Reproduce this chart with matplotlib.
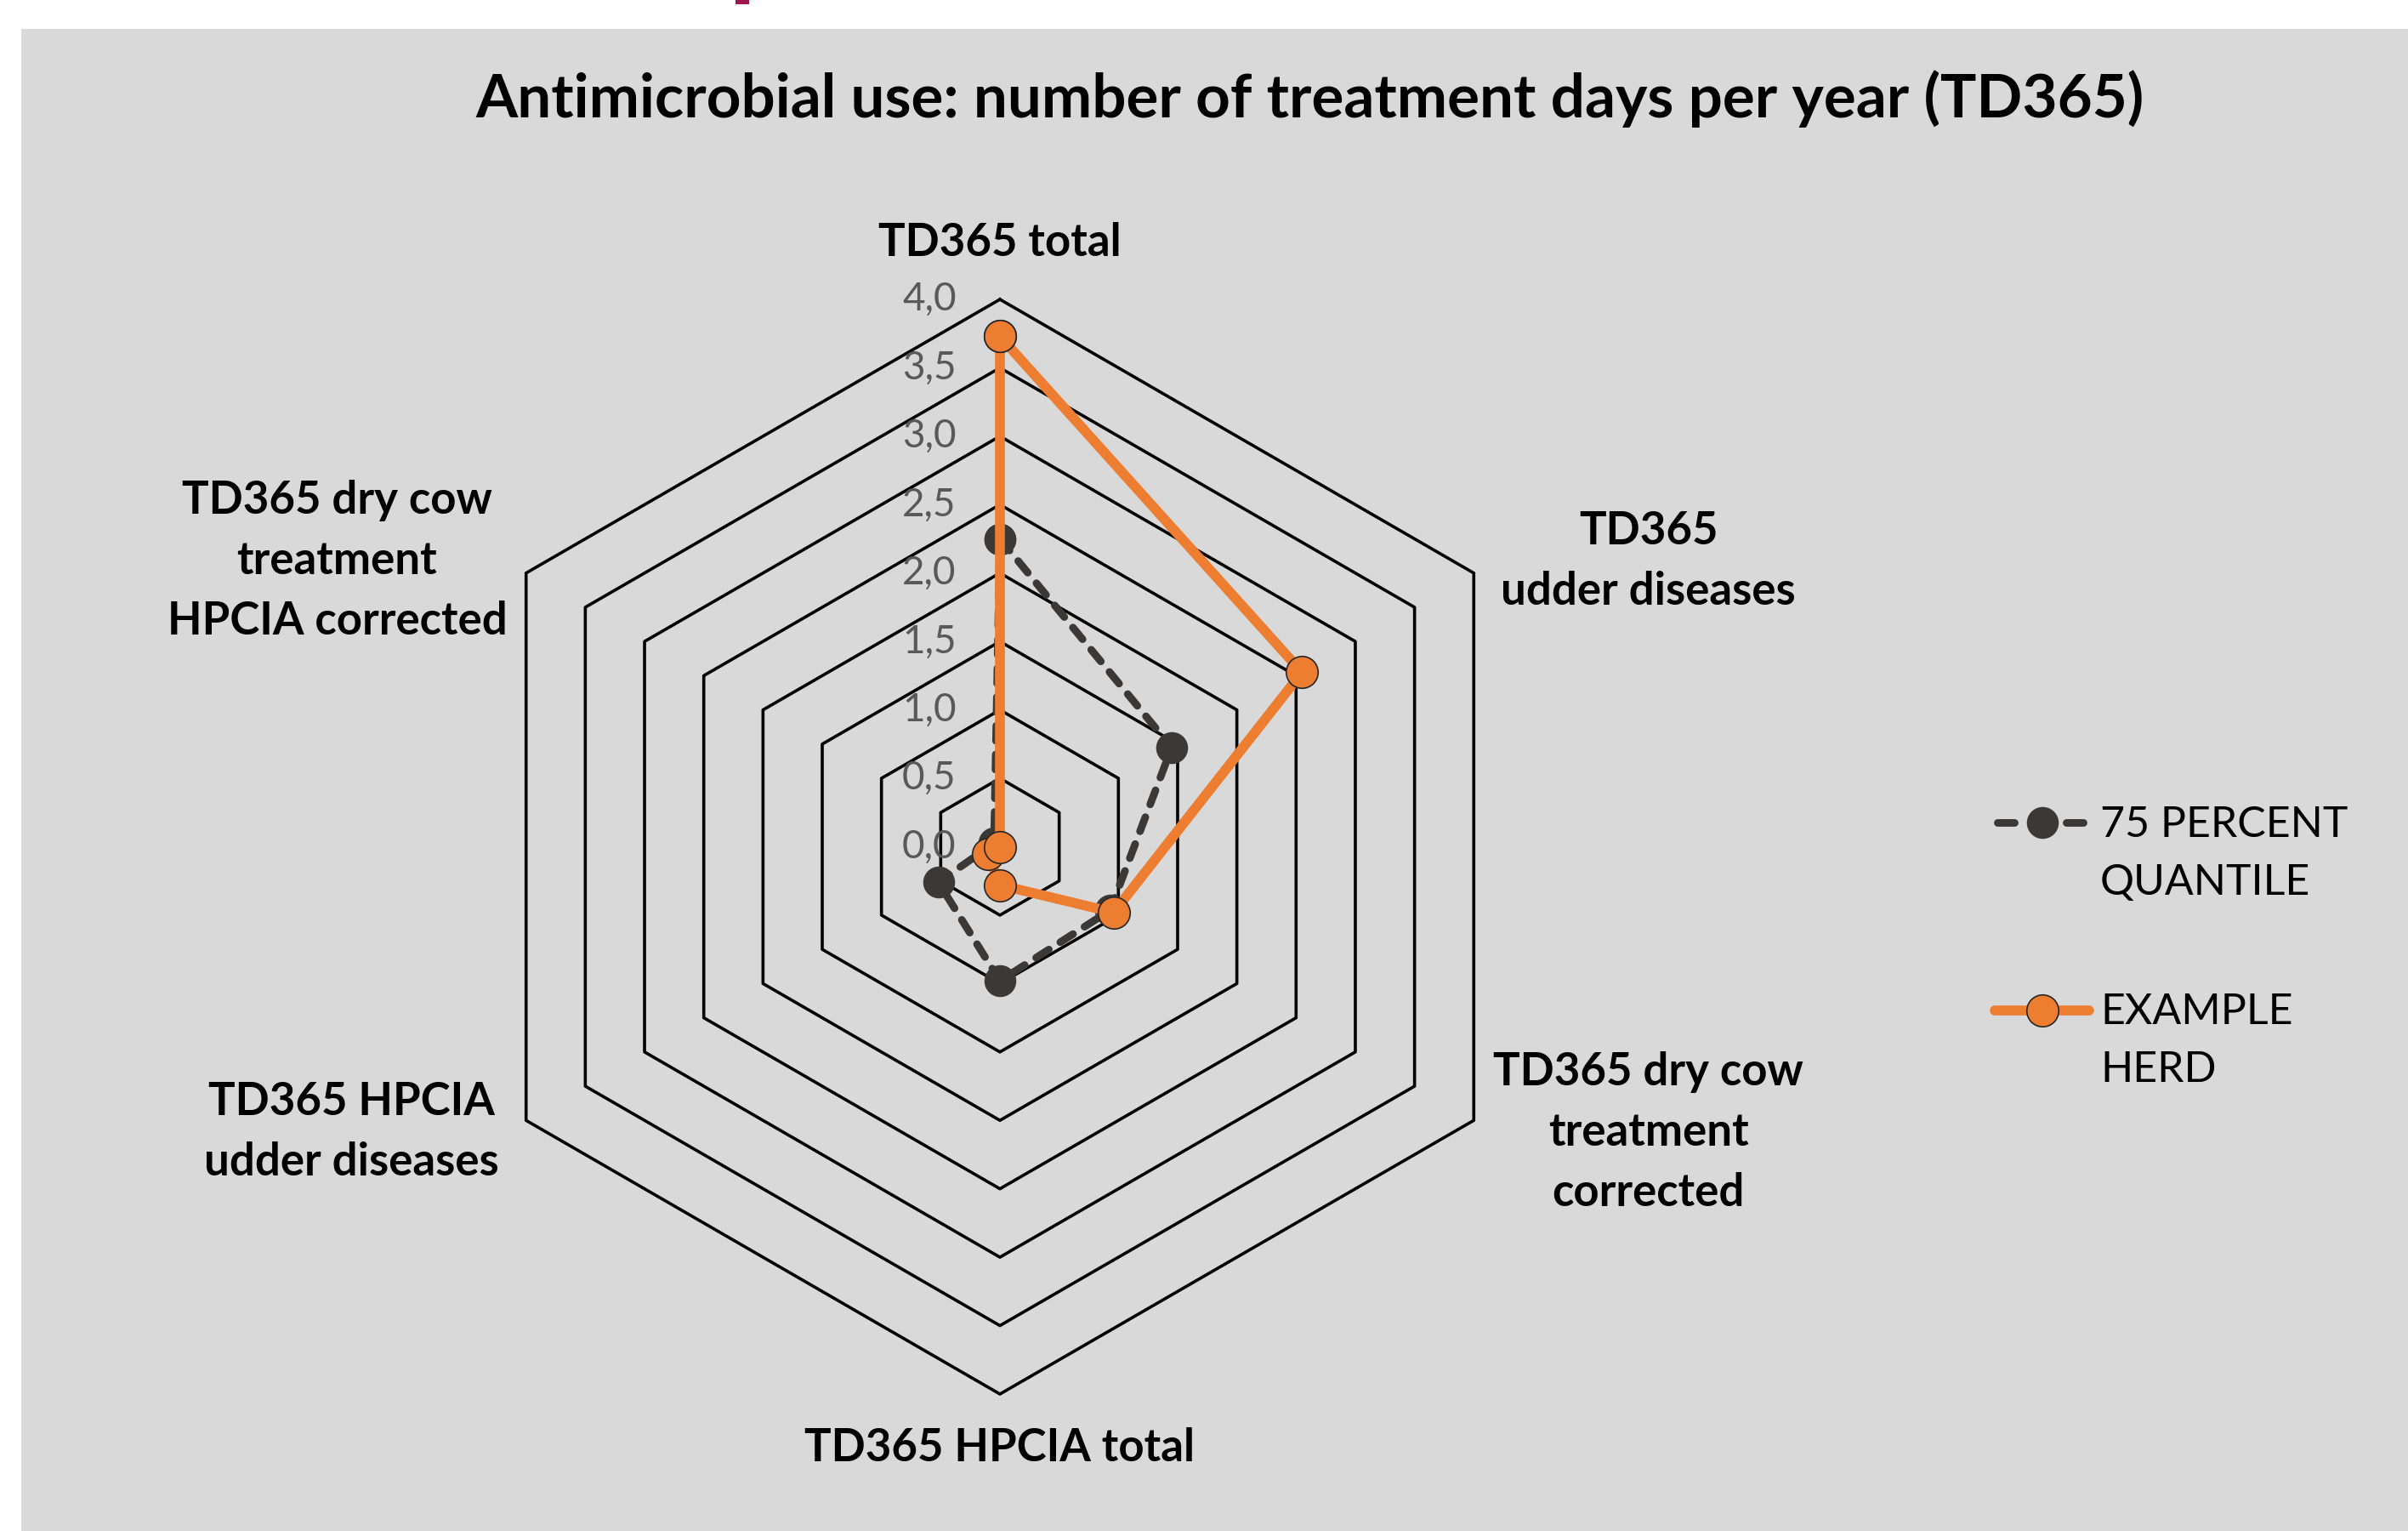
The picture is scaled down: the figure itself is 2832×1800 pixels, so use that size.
import numpy as np
import matplotlib
matplotlib.use("Agg")
import matplotlib.pyplot as plt
from matplotlib.patches import Rectangle

plt.rcParams['font.family'] = ['Lato', 'DejaVu Sans']

# data
categories = ["TD365 total", "TD365\nudder diseases", "TD365 dry cow\ntreatment\ncorrected",
              "TD365 HPCIA total", "TD365 HPCIA\nudder diseases",
              "TD365 dry cow\ntreatment\nHPCIA corrected"]
quantile75 = [2.25, 1.45, 0.93, 0.98, 0.52, 0.05]
example_herd = [3.73, 2.55, 0.96, 0.28, 0.10, 0.00]
ring_values = [0.0, 0.5, 1.0, 1.5, 2.0, 2.5, 3.0, 3.5, 4.0]
tick_labels = ["0,0", "0,5", "1,0", "1,5", "2,0", "2,5", "3,0", "3,5", "4,0"]
series_names = ["75 PERCENT\nQUANTILE", "EXAMPLE\nHERD"]
title = "Antimicrobial use: number of treatment days per year (TD365)"

DARK = "#3B3838"
ORANGE = "#ED7D31"
W, H = 2832, 1800

fig = plt.figure(figsize=(W / 200, H / 200), dpi=200)
fig.patch.set_facecolor("white")
fig.patches.append(Rectangle((25 / W, 0), 1, 1 - 34 / H, transform=fig.transFigure,
                             facecolor="#D9D9D9", edgecolor="none", zorder=-10))
fig.patches.append(Rectangle((865 / W, 1 - 5 / H), 16 / W, 5 / H, transform=fig.transFigure,
                             facecolor="#A0174F", edgecolor="none", zorder=-10))

# radar axes: centre (1176, 995.5) px, 4.0 ring radius 643.5 px
unit = 643.5 / 4.0
half = 700
ax = fig.add_axes([(1176 - half) / W, (H - 995.5 - half) / H, 2 * half / W, 2 * half / H])
ax.set_xlim(-half / unit, half / unit)
ax.set_ylim(-half / unit, half / unit)
ax.axis("off")
ax.patch.set_alpha(0)

theta = np.arange(len(categories)) * 2 * np.pi / len(categories)


def to_xy(values):
    r = np.append(values, values[0])
    t = np.append(theta, theta[0])
    return r * np.sin(t), r * np.cos(t)


for v in ring_values[1:]:
    x, y = to_xy(np.full(len(categories), v))
    ax.plot(x, y, color="black", lw=1.3, zorder=1)

for v, lab in zip(ring_values, tick_labels):
    ax.annotate(lab, xy=(0, v), xytext=(-18.5, 0), textcoords="offset points",
                ha="right", va="center", fontsize=16.5, color="#595959")

label_offsets = [(0, 24), (74, 5), (74, -5), (0, -23), (-74, -5), (-80, 5)]
for i, (cat, off) in enumerate(zip(categories, label_offsets)):
    vx, vy = 4.0 * np.sin(theta[i]), 4.0 * np.cos(theta[i])
    ax.annotate(cat, xy=(vx, vy), xytext=off, textcoords="offset points",
                ha="center", va="center", fontsize=19, fontweight="bold",
                linespacing=1.55, multialignment="center")

x, y = to_xy(quantile75)
ax.plot(x, y, color=DARK, lw=3.2, ls=(0, (2.0, 1.8)), dash_capstyle="round",
        marker="o", markersize=12.5, markerfacecolor=DARK, markeredgecolor=DARK, zorder=3)
x, y = to_xy(example_herd)
ax.plot(x, y, color=ORANGE, lw=4.2, solid_joinstyle="miter",
        marker="o", markersize=13.5, markerfacecolor=ORANGE, markeredgecolor="#262626",
        markeredgewidth=0.6, zorder=4)

fig.text(1541 / W, 1 - 116 / H, title, ha="center", va="center", fontsize=25.5, fontweight="bold")

# legend
lax = fig.add_axes([0, 0, 1, 1])
lax.set_xlim(0, W)
lax.set_ylim(H, 0)
lax.axis("off")
lax.patch.set_alpha(0)
lax.plot([2349, 2369], [967, 967], color=DARK, lw=3.2, solid_capstyle="round")
lax.plot([2430, 2450], [967, 967], color=DARK, lw=3.2, solid_capstyle="round")
lax.plot([2402], [967], marker="o", markersize=12.5, color=DARK)
lax.plot([2346, 2457], [1188, 1188], color=ORANGE, lw=4.2, solid_capstyle="round")
lax.plot([2402], [1188], marker="o", markersize=13.5, markerfacecolor=ORANGE,
         markeredgecolor="#262626", markeredgewidth=0.6)
lax.text(2470, 1004, series_names[0], ha="left", va="center", fontsize=18, linespacing=1.6)
lax.text(2470, 1224, series_names[1], ha="left", va="center", fontsize=18, linespacing=1.6)

fig.savefig("out.png", dpi=200)
